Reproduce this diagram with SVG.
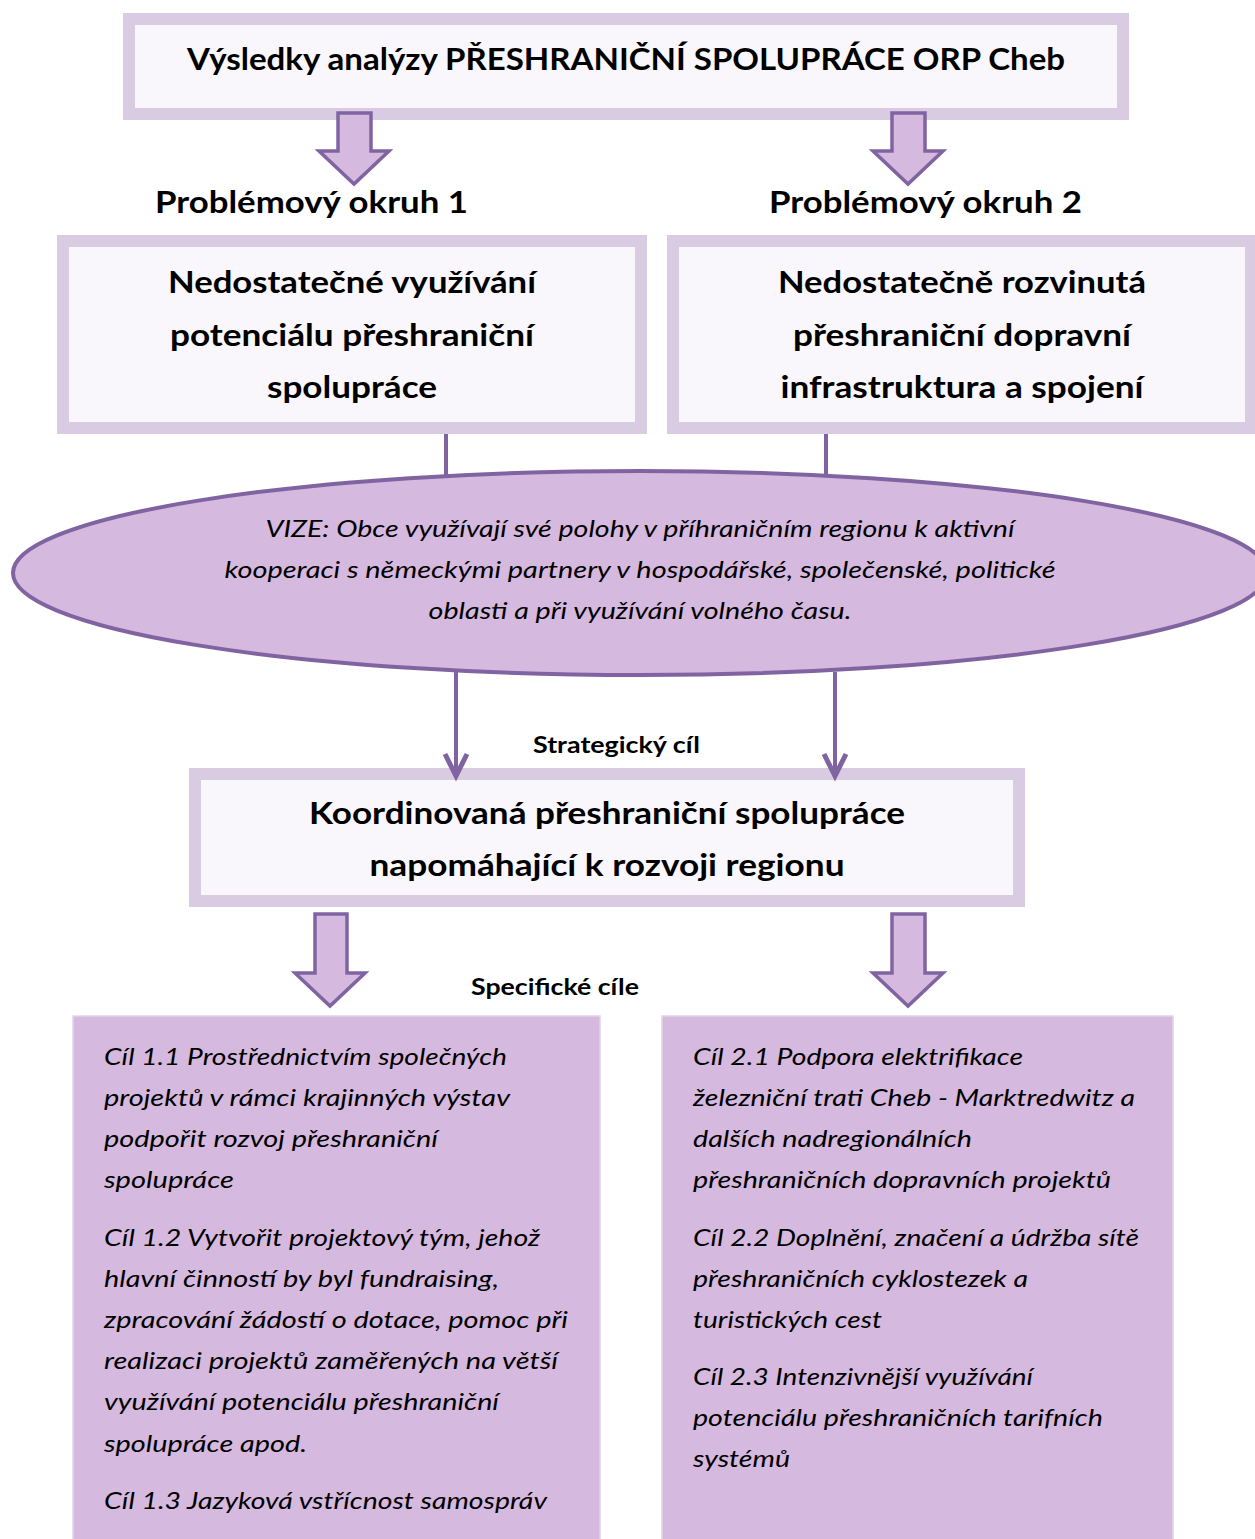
<svg xmlns="http://www.w3.org/2000/svg" width="1255" height="1539" viewBox="0 0 1255 1539">
<style>
.frame{fill:#f9f7fb;stroke:#d9cbe1;stroke-width:12}
.goal{fill:#d6b9de;stroke:#e2d3e8;stroke-width:1.5}
.barrow{fill:#d6b9de;stroke:#8064a2;stroke-width:3.5;stroke-linejoin:miter}
.line{fill:none;stroke:#8064a2;stroke-width:4}
.head{fill:none;stroke:#8064a2;stroke-width:5;stroke-linejoin:miter;stroke-linecap:butt}
.b{font-family:Lato,"Open Sans","Liberation Sans",sans-serif;font-weight:bold;fill:#000}
.big{font-size:31px}
.mid{font-size:23px}
.it{font-family:Lato,"Open Sans","Liberation Sans",sans-serif;font-style:italic;fill:#000;font-size:24px}
</style>
<rect width="1255" height="1539" fill="#ffffff"/>

<g id="title">
<rect class="frame" x="129" y="19" width="994" height="95"/>
<text class="b big" x="187" y="70" textLength="878" lengthAdjust="spacingAndGlyphs">Výsledky analýzy PŘESHRANIČNÍ SPOLUPRÁCE ORP Cheb</text>
</g>

<g id="label-okruh1"><text class="b big" x="155" y="213" textLength="313" lengthAdjust="spacingAndGlyphs">Problémový okruh 1</text></g>
<g id="label-okruh2"><text class="b big" x="769" y="213" textLength="313" lengthAdjust="spacingAndGlyphs">Problémový okruh 2</text></g>

<g id="problem1">
<rect class="frame" x="63" y="241" width="578" height="187"/>
<text class="b big" text-anchor="middle" x="352" y="293" textLength="368" lengthAdjust="spacingAndGlyphs">Nedostatečné využívání</text>
<text class="b big" text-anchor="middle" x="352" y="346" textLength="364" lengthAdjust="spacingAndGlyphs">potenciálu přeshraniční</text>
<text class="b big" text-anchor="middle" x="352" y="398" textLength="170" lengthAdjust="spacingAndGlyphs">spolupráce</text>
</g>

<g id="problem2">
<rect class="frame" x="673" y="241" width="578" height="187"/>
<text class="b big" text-anchor="middle" x="962" y="293" textLength="368" lengthAdjust="spacingAndGlyphs">Nedostatečně rozvinutá</text>
<text class="b big" text-anchor="middle" x="962" y="346" textLength="338" lengthAdjust="spacingAndGlyphs">přeshraniční dopravní</text>
<text class="b big" text-anchor="middle" x="962" y="398" textLength="363" lengthAdjust="spacingAndGlyphs">infrastruktura a spojení</text>
</g>

<g id="vision">
<ellipse cx="640" cy="573" rx="627" ry="102" fill="#d6b9de" stroke="#8064a2" stroke-width="4"/>
<text class="it" text-anchor="middle" x="640" y="537" textLength="749" lengthAdjust="spacingAndGlyphs">VIZE: Obce využívají své polohy v příhraničním regionu k aktivní</text>
<text class="it" text-anchor="middle" x="640" y="578" textLength="831" lengthAdjust="spacingAndGlyphs">kooperaci s německými partnery v hospodářské, společenské, politické</text>
<text class="it" text-anchor="middle" x="640" y="619" textLength="423" lengthAdjust="spacingAndGlyphs">oblasti a při využívání volného času.</text>
</g>

<g id="label-strategic"><text class="b mid" x="533" y="753" textLength="167" lengthAdjust="spacingAndGlyphs">Strategický cíl</text></g>

<g id="strategic">
<rect class="frame" x="195" y="774" width="824" height="127"/>
<text class="b big" text-anchor="middle" x="607" y="824" textLength="596" lengthAdjust="spacingAndGlyphs">Koordinovaná přeshraniční spolupráce</text>
<text class="b big" text-anchor="middle" x="607" y="876" textLength="475" lengthAdjust="spacingAndGlyphs">napomáhající k rozvoji regionu</text>
</g>

<g id="label-specific"><text class="b mid" x="471" y="995" textLength="168" lengthAdjust="spacingAndGlyphs">Specifické cíle</text></g>

<g id="goals1">
<rect class="goal" x="73" y="1016" width="527" height="530"/>
<text class="it" x="104" y="1065" textLength="403" lengthAdjust="spacingAndGlyphs">Cíl 1.1 Prostřednictvím společných</text>
<text class="it" x="104" y="1106" textLength="406" lengthAdjust="spacingAndGlyphs">projektů v rámci krajinných výstav</text>
<text class="it" x="104" y="1147" textLength="334" lengthAdjust="spacingAndGlyphs">podpořit rozvoj přeshraniční</text>
<text class="it" x="104" y="1188" textLength="130" lengthAdjust="spacingAndGlyphs">spolupráce</text>
<text class="it" x="104" y="1246" textLength="436" lengthAdjust="spacingAndGlyphs">Cíl 1.2 Vytvořit projektový tým, jehož</text>
<text class="it" x="104" y="1287" textLength="395" lengthAdjust="spacingAndGlyphs">hlavní činností by byl fundraising,</text>
<text class="it" x="104" y="1328" textLength="464" lengthAdjust="spacingAndGlyphs">zpracování žádostí o dotace, pomoc při</text>
<text class="it" x="104" y="1369" textLength="454" lengthAdjust="spacingAndGlyphs">realizaci projektů zaměřených na větší</text>
<text class="it" x="104" y="1410" textLength="395" lengthAdjust="spacingAndGlyphs">využívání potenciálu přeshraniční</text>
<text class="it" x="104" y="1452" textLength="203" lengthAdjust="spacingAndGlyphs">spolupráce apod.</text>
<text class="it" x="104" y="1509" textLength="443" lengthAdjust="spacingAndGlyphs">Cíl 1.3 Jazyková vstřícnost samospráv</text>
</g>

<g id="goals2">
<rect class="goal" x="662" y="1016" width="511" height="530"/>
<text class="it" x="693" y="1065" textLength="330" lengthAdjust="spacingAndGlyphs">Cíl 2.1 Podpora elektrifikace</text>
<text class="it" x="693" y="1106" textLength="442" lengthAdjust="spacingAndGlyphs">železniční trati Cheb - Marktredwitz a</text>
<text class="it" x="693" y="1147" textLength="279" lengthAdjust="spacingAndGlyphs">dalších nadregionálních</text>
<text class="it" x="693" y="1188" textLength="418" lengthAdjust="spacingAndGlyphs">přeshraničních dopravních projektů</text>
<text class="it" x="693" y="1246" textLength="446" lengthAdjust="spacingAndGlyphs">Cíl 2.2 Doplnění, značení a údržba sítě</text>
<text class="it" x="693" y="1287" textLength="335" lengthAdjust="spacingAndGlyphs">přeshraničních cyklostezek a</text>
<text class="it" x="693" y="1328" textLength="189" lengthAdjust="spacingAndGlyphs">turistických cest</text>
<text class="it" x="693" y="1385" textLength="340" lengthAdjust="spacingAndGlyphs">Cíl 2.3 Intenzivnější využívání</text>
<text class="it" x="693" y="1426" textLength="410" lengthAdjust="spacingAndGlyphs">potenciálu přeshraničních tarifních</text>
<text class="it" x="693" y="1467" textLength="97" lengthAdjust="spacingAndGlyphs">systémů</text>
</g>

<g id="connectors">
<path class="barrow" d="M338,113 H371 V151 H389 L354,184 L319,151 H338 Z"/>
<path class="barrow" d="M892,113 H925 V151 H943 L908,184 L873,151 H892 Z"/>
<line class="line" x1="446" y1="434" x2="446" y2="475"/>
<line class="line" x1="826" y1="434" x2="826" y2="475"/>
<line class="line" x1="456" y1="672" x2="456" y2="775"/>
<polyline class="head" points="445,754 456,776 467,754"/>
<line class="line" x1="835" y1="672" x2="835" y2="775"/>
<polyline class="head" points="824,754 835,776 846,754"/>
<path class="barrow" d="M315,914 H347 V973 H365 L330,1006 L295,973 H315 Z"/>
<path class="barrow" d="M892,914 H925 V973 H943 L908,1006 L873,973 H892 Z"/>
</g>
</svg>
